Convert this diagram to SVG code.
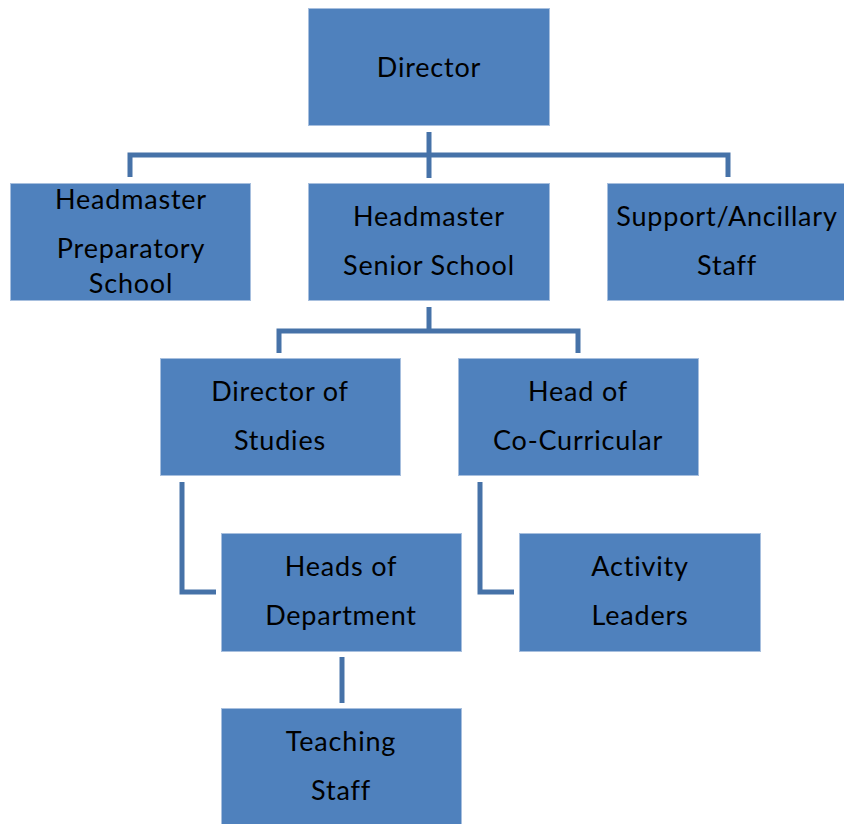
<svg xmlns="http://www.w3.org/2000/svg" width="844" height="824" viewBox="0 0 844 824">
  <style>
    .box { fill: #4F81BD; stroke: #A7BFDE; stroke-width: 1; }
    .lbl { font-family: Lato, "Open Sans", "Liberation Sans", sans-serif; font-size: 27px; letter-spacing: 0.8px; fill: #000; text-anchor: middle; }
    .link { fill: none; stroke: #4672A8; stroke-width: 5; }
  </style>
  <rect width="844" height="824" fill="#fff"/>

  <!-- connectors -->
  <g id="connectors">
    <path class="link" d="M429 132 V178"/>
    <path class="link" d="M130 177 V155 H728 V177"/>
    <path class="link" d="M429 307 V331"/>
    <path class="link" d="M279 353 V331 H578 V353"/>
    <path class="link" d="M182 482 V592 H216"/>
    <path class="link" d="M480 482 V592 H514"/>
    <path class="link" d="M342 657 V703"/>
  </g>

  <g id="director">
    <rect class="box" x="308.5" y="8.5" width="241" height="117"/>
    <text class="lbl" x="429" y="77">Director</text>
  </g>

  <g id="head-prep">
    <rect class="box" x="10.5" y="183.5" width="240" height="117"/>
    <text class="lbl" x="131" y="209">Headmaster</text>
    <text class="lbl" x="131" y="258">Preparatory</text>
    <text class="lbl" x="131" y="293">School</text>
  </g>

  <g id="head-senior">
    <rect class="box" x="308.5" y="183.5" width="241" height="117"/>
    <text class="lbl" x="429" y="226">Headmaster</text>
    <text class="lbl" x="429" y="275">Senior School</text>
  </g>

  <g id="support-staff">
    <rect class="box" x="607.5" y="183.5" width="240" height="117"/>
    <text class="lbl" x="727" y="226">Support/Ancillary</text>
    <text class="lbl" x="727" y="275">Staff</text>
  </g>

  <g id="director-studies">
    <rect class="box" x="160.5" y="358.5" width="240" height="117"/>
    <text class="lbl" x="280" y="401">Director of</text>
    <text class="lbl" x="280" y="450">Studies</text>
  </g>

  <g id="head-cocurricular">
    <rect class="box" x="458.5" y="358.5" width="240" height="117"/>
    <text class="lbl" x="578" y="401">Head of</text>
    <text class="lbl" x="578" y="450">Co-Curricular</text>
  </g>

  <g id="heads-department">
    <rect class="box" x="221.5" y="533.5" width="240" height="118"/>
    <text class="lbl" x="341" y="576">Heads of</text>
    <text class="lbl" x="341" y="625">Department</text>
  </g>

  <g id="activity-leaders">
    <rect class="box" x="519.5" y="533.5" width="241" height="118"/>
    <text class="lbl" x="640" y="576">Activity</text>
    <text class="lbl" x="640" y="625">Leaders</text>
  </g>

  <g id="teaching-staff">
    <rect class="box" x="221.5" y="708.5" width="240" height="118"/>
    <text class="lbl" x="341" y="751">Teaching</text>
    <text class="lbl" x="341" y="800">Staff</text>
  </g>
</svg>
